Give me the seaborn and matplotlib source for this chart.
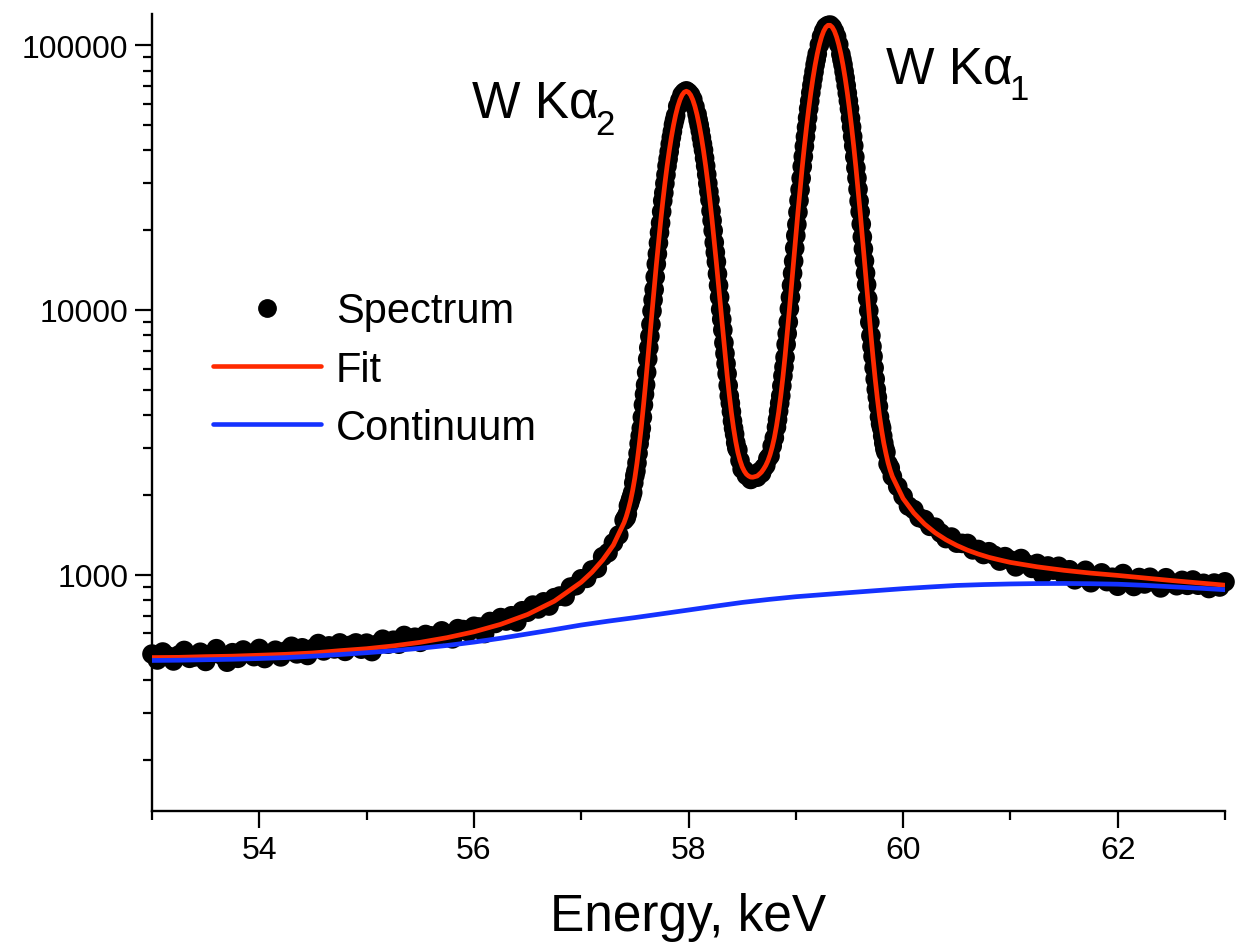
import matplotlib
matplotlib.use("Agg")
import matplotlib.pyplot as plt
import numpy as np
import pandas as pd
import seaborn as sns
from matplotlib.ticker import FixedLocator, FixedFormatter, NullFormatter, LogLocator, MultipleLocator
from matplotlib.lines import Line2D

sns.set_theme(style="ticks")
plt.rcParams["font.family"] = ["Liberation Sans", "DejaVu Sans"]
plt.rcParams["mathtext.fontset"] = "custom"
plt.rcParams["mathtext.rm"] = "Liberation Sans"
plt.rcParams["mathtext.default"] = "regular"
plt.rcParams["text.color"] = "black"
plt.rcParams["axes.labelcolor"] = "black"
plt.rcParams["xtick.color"] = "black"
plt.rcParams["ytick.color"] = "black"

# ---------------- data ----------------
energy_low = [53.00, 53.05, 53.10, 53.15, 53.20, 53.25, 53.30, 53.35, 53.40, 53.45,
              53.50, 53.55, 53.60, 53.65, 53.70, 53.75, 53.80, 53.85, 53.90, 53.95,
              54.00, 54.05, 54.10, 54.15, 54.20, 54.25, 54.30, 54.35, 54.40, 54.45,
              54.50, 54.55, 54.60, 54.65, 54.70, 54.75, 54.80, 54.85, 54.90, 54.95,
              55.00, 55.05, 55.10, 55.15, 55.20, 55.25, 55.30, 55.35, 55.40, 55.45,
              55.50, 55.55, 55.60, 55.65, 55.70, 55.75, 55.80, 55.85, 55.90, 55.95,
              56.00, 56.05, 56.10, 56.15, 56.20, 56.25, 56.30, 56.35, 56.40, 56.45,
              56.50, 56.55, 56.60, 56.65, 56.70, 56.75, 56.80, 56.85, 56.90, 56.95,
              57.00, 57.05, 57.10, 57.15, 57.20, 57.25, 57.30, 57.35]
counts_low = [501, 476, 510, 492, 472, 497, 517, 483, 489, 509,
              470, 500, 525, 496, 467, 507, 483, 519, 504, 490,
              526, 482, 503, 518, 489, 515, 536, 502, 529, 495,
              526, 549, 515, 538, 524, 552, 513, 541, 552, 523,
              551, 512, 546, 570, 546, 565, 546, 589, 564, 580,
              555, 594, 587, 580, 613, 595, 572, 625, 620, 608,
              638, 634, 599, 665, 654, 688, 668, 699, 663, 730,
              721, 767, 742, 789, 761, 818, 830, 825, 897, 908,
              964, 968, 1041, 1056, 1169, 1210, 1319, 1411]

energy_peak = [57.40, 57.42, 57.44, 57.46, 57.48, 57.50, 57.52, 57.54, 57.56, 57.58,
               57.60, 57.62, 57.64, 57.66, 57.68, 57.70, 57.72, 57.74, 57.76, 57.78,
               57.80, 57.82, 57.84, 57.86, 57.88, 57.90, 57.92, 57.94, 57.96, 57.98,
               58.00, 58.02, 58.04, 58.06, 58.08, 58.10, 58.12, 58.14, 58.16, 58.18,
               58.20, 58.22, 58.24, 58.26, 58.28, 58.30, 58.32, 58.34, 58.36, 58.38,
               58.40, 58.42, 58.44, 58.46, 58.48, 58.50, 58.52, 58.54, 58.56, 58.58,
               58.60, 58.62, 58.64, 58.66, 58.68, 58.70, 58.72, 58.74, 58.76, 58.78,
               58.80, 58.82, 58.84, 58.86, 58.88, 58.90, 58.92, 58.94, 58.96, 58.98,
               59.00, 59.02, 59.04, 59.06, 59.08, 59.10, 59.12, 59.14, 59.16, 59.18,
               59.20, 59.22, 59.24, 59.26, 59.28, 59.30, 59.32, 59.34, 59.36, 59.38,
               59.40, 59.42, 59.44, 59.46, 59.48, 59.50, 59.52, 59.54, 59.56, 59.58,
               59.60, 59.62, 59.64, 59.66, 59.68, 59.70, 59.72, 59.74, 59.76, 59.78,
               59.80, 59.82, 59.84, 59.86, 59.88, 59.90]
counts_peak = [1604, 1640, 1819, 1921, 2042, 2365, 2641, 3123, 3571, 4375,
               5208, 6520, 7945, 9896, 11933, 14887, 17887, 21289, 25804, 30003,
               34949, 39553, 44796, 49981, 54115, 58742, 61874, 64903, 66360, 67131,
               66180, 64746, 62303, 58467, 54755, 49848, 44706, 40108, 34952, 30050,
               26026, 21745, 17969, 15177, 12365, 10034, 8390, 6844, 5735, 4730,
               4125, 3570, 3151, 2955, 2698, 2504, 2485, 2370, 2404, 2288,
               2333, 2367, 2333, 2443, 2414, 2529, 2583, 2744, 2808, 3061,
               3286, 3604, 4145, 4735, 5629, 6616, 8135, 10091, 12367, 15267,
               19067, 23368, 28425, 34772, 41450, 48900, 57479, 66042, 74795, 84223,
               92587, 100295, 107606, 112916, 116999, 118507, 118978, 116755, 112680, 107596,
               100487, 92300, 84214, 75015, 65835, 57470, 49036, 41642, 34405, 28548,
               23459, 18843, 15303, 12441, 9932, 7986, 6668, 5480, 4677, 3941,
               3578, 3141, 2898, 2619, 2529, 2348]
fit_peak = [1573, 1657, 1766, 1902, 2084, 2319, 2641, 3062, 3607, 4332,
            5261, 6455, 7945, 9798, 12054, 14740, 17887, 21504, 25549, 30003,
            34775, 39752, 44796, 49732, 54387, 58566, 62060, 64709, 66360, 66930,
            66379, 64746, 62117, 58643, 54483, 49848, 44931, 39908, 34952, 30201,
            25768, 21745, 18150, 15027, 12365, 10135, 8307, 6844, 5678, 4778,
            4084, 3570, 3183, 2897, 2698, 2555, 2460, 2394, 2357, 2335,
            2333, 2344, 2357, 2395, 2438, 2504, 2583, 2690, 2836, 3031,
            3286, 3640, 4104, 4735, 5573, 6683, 8135, 9991, 12367, 15344,
            18972, 23368, 28568, 34599, 41450, 49047, 57307, 66042, 75020, 83971,
            92587, 100496, 107391, 112916, 116765, 118744, 118741, 116755, 112906, 107381,
            100487, 92578, 83962, 75015, 66033, 57298, 49036, 41435, 34578, 28548,
            23342, 18938, 15303, 12318, 9932, 8067, 6602, 5480, 4631, 3981,
            3508, 3141, 2869, 2645, 2479, 2348]

# extra channels read on the steep flanks of both lines
energy_flank = [57.41, 57.43, 57.45, 57.47, 57.49, 57.51, 57.53,
                57.55, 57.57, 57.59, 57.61, 57.63, 57.65, 57.67, 57.69, 57.71, 57.73,
                57.75, 57.77, 57.79, 57.81, 57.83, 57.85, 57.87,
                58.09, 58.11, 58.13, 58.15, 58.17, 58.19, 58.21, 58.23, 58.25,
                58.27, 58.29, 58.31, 58.33, 58.35, 58.37, 58.39, 58.41, 58.43, 58.45,
                58.83, 58.85,
                58.87, 58.89, 58.91, 58.93, 58.95, 58.97, 58.99, 59.01, 59.03,
                59.05, 59.07, 59.09, 59.11, 59.13, 59.15, 59.17, 59.19,
                59.43, 59.45, 59.47, 59.49, 59.51, 59.53, 59.55, 59.57, 59.59,
                59.61, 59.63, 59.65, 59.67, 59.69, 59.71, 59.73, 59.75,
                59.77, 59.79, 59.81, 59.83]
counts_flank = [1631, 1694, 1858, 1975, 2221, 2460, 2870,
                3340, 3931, 4798, 5810, 7190, 8801, 10900, 13310, 16270, 19580,
                23480, 27650, 32360, 37140, 42250, 47150, 52060,
                52060, 47380, 42300, 37400, 32450, 27950, 23630, 19910, 16480,
                13670, 11160, 9210, 7510, 6260, 5180, 4440, 3800, 3390, 3010,
                3850, 4440,
                5160, 6080, 7400, 8990, 11150, 13740, 17100, 21010, 25880,
                31400, 37920, 45050, 53080, 61460, 70450, 79310, 88240,
                88100, 79430, 70320, 61580, 52950, 45140, 37800, 31470, 25770,
                21080, 16990, 13770, 11030, 8980, 7270, 6040, 5010,
                4320, 3710, 3340, 2985]

energy_high = [59.95, 60.00, 60.05, 60.10, 60.15, 60.20, 60.25, 60.30, 60.35, 60.40,
               60.45, 60.50, 60.55, 60.60, 60.65, 60.70, 60.75, 60.80, 60.85, 60.90,
               60.95, 61.00, 61.05, 61.10, 61.15, 61.20, 61.25, 61.30, 61.35, 61.40,
               61.45, 61.50, 61.55, 61.60, 61.65, 61.70, 61.75, 61.80, 61.85, 61.90,
               61.95, 62.00, 62.05, 62.10, 62.15, 62.20, 62.25, 62.30, 62.35, 62.40,
               62.45, 62.50, 62.55, 62.60, 62.65, 62.70, 62.75, 62.80, 62.85, 62.90,
               62.95, 63.00]
counts_high = [2151, 1977, 1815, 1760, 1641, 1614, 1522, 1510, 1436, 1368,
               1386, 1315, 1312, 1311, 1240, 1244, 1191, 1220, 1183, 1125,
               1169, 1134, 1070, 1150, 1097, 1056, 1102, 1000, 1078, 1040,
               1075, 996, 1043, 956, 1003, 1038, 932, 979, 1015, 941,
               977, 904, 1009, 945, 902, 975, 922, 977, 934, 891,
               973, 931, 908, 951, 911, 954, 912, 927, 886, 929,
               898, 939]

fit_energy_low = [53.00, 53.25, 53.50, 53.75, 54.00, 54.25, 54.50, 54.75, 55.00, 55.25,
                  55.50, 55.75, 56.00, 56.25, 56.50, 56.75, 57.00, 57.10, 57.20, 57.30]
fit_low = [486, 487, 490, 492, 496, 500, 506, 516, 525, 538,
           555, 578, 608, 649, 707, 794, 936, 1021, 1135, 1293]
fit_energy_high = [60.00, 60.10, 60.20, 60.30, 60.40, 60.50, 60.60, 60.70, 60.80, 60.90,
                   61.00, 61.25, 61.50, 61.75, 62.00, 62.25, 62.50, 62.75, 63.00]
fit_high = [1938, 1709, 1552, 1438, 1354, 1289, 1237, 1196, 1162, 1136,
            1112, 1070, 1038, 1013, 993, 971, 950, 931, 912]

cont_energy = [53.00, 53.25, 53.50, 53.75, 54.00, 54.25, 54.50, 54.75, 55.00, 55.25,
               55.50, 55.75, 56.00, 56.25, 56.50, 56.75, 57.00, 57.25, 57.50, 57.75,
               58.00, 58.25, 58.50, 58.75, 59.00, 59.25, 59.50, 59.75, 60.00, 60.25,
               60.50, 60.75, 61.00, 61.25, 61.50, 61.75, 62.00, 62.25, 62.50, 62.75,
               63.00]
cont_counts = [474, 475, 477, 479, 482, 486, 492, 499, 507, 516,
               527, 540, 556, 575, 597, 620, 645, 667, 688, 711,
               735, 760, 785, 806, 825, 840, 855, 870, 885, 898,
               910, 917, 922, 925, 926, 924, 920, 911, 900, 889,
               877]

legend_labels = ["Spectrum", "Fit", "Continuum"]
major_y = [1000, 10000, 100000]
major_y_labels = ["1000", "10000", "100000"]
major_x = [54, 56, 58, 60, 62]

RED = "#FF2A00"
BLUE = "#1432FF"

spec = pd.DataFrame({"energy": energy_low + energy_peak + energy_flank + energy_high,
                     "counts": counts_low + counts_peak + counts_flank + counts_high})
fit = pd.DataFrame({"energy": fit_energy_low + energy_peak + fit_energy_high,
                    "counts": fit_low + fit_peak + fit_high})
cont = pd.DataFrame({"energy": cont_energy, "counts": cont_counts})

# ---------------- figure ----------------
W, H = 1241, 945
fig = plt.figure(figsize=(W / 100, H / 100), dpi=100)
ax = fig.add_axes([152 / W, 1 - 812 / H, (1225 - 152) / W, (812 - 15) / H])
ax.set_yscale("log")

sns.scatterplot(data=spec, x="energy", y="counts", ax=ax, color="black", s=200,
                linewidth=0, edgecolor="none", clip_on=False, zorder=2, legend=False)
sns.lineplot(data=fit, x="energy", y="counts", ax=ax, color=RED, lw=3.4,
             estimator=None, sort=False, zorder=3, solid_joinstyle="round")
sns.lineplot(data=cont, x="energy", y="counts", ax=ax, color=BLUE, lw=3.4,
             estimator=None, sort=False, zorder=3, solid_joinstyle="round")

ax.set_xlim(53, 63)
ax.set_ylim(128, 131000)
ax.grid(False)

for side in ["top", "right"]:
    ax.spines[side].set_visible(False)
for side in ["left", "bottom"]:
    ax.spines[side].set_linewidth(1.7)
    ax.spines[side].set_color("black")

ax.yaxis.set_major_locator(FixedLocator(major_y))
ax.yaxis.set_major_formatter(FixedFormatter(major_y_labels))
ax.yaxis.set_minor_locator(LogLocator(base=10, subs=[2, 3, 4, 5, 6, 7, 8, 9]))
ax.yaxis.set_minor_formatter(NullFormatter())
ax.set_xticks(major_x)
ax.xaxis.set_minor_locator(MultipleLocator(1))

ax.tick_params(axis="both", which="major", direction="out", length=12, width=1.6,
               labelsize=23, colors="black")
ax.tick_params(axis="both", which="minor", direction="out", length=6.5, width=1.6,
               colors="black")
ax.tick_params(axis="y", which="major", pad=5)
ax.tick_params(axis="x", which="major", pad=5)

ax.set_xlabel("Energy, keV", fontsize=37, labelpad=20, color="black")
ax.set_ylabel("")

# peak labels: "W Kα" with a large, low subscript
t2 = ax.text(55.98, 53950, "W Kα", fontsize=37, ha="left", va="baseline", color="black")
ax.annotate("2", xy=(1, 0), xycoords=t2, xytext=(-2, -5), textcoords="offset points",
            fontsize=25, ha="left", va="baseline", color="black")
t1 = ax.text(59.84, 72450, "W Kα", fontsize=37, ha="left", va="baseline", color="black")
ax.annotate("1", xy=(1, 0), xycoords=t1, xytext=(-2, -4.5), textcoords="offset points",
            fontsize=25, ha="left", va="baseline", color="black")

handles = [Line2D([], [], marker="o", ls="none", color="black", markersize=12.5),
           Line2D([], [], color=RED, lw=3.3, solid_capstyle="round"),
           Line2D([], [], color=BLUE, lw=3.3, solid_capstyle="round")]
ax.legend(handles, legend_labels, loc="upper left", bbox_to_anchor=(0.0568, 0.652),
          frameon=False, fontsize=30, handlelength=2.6, handletextpad=0.35,
          labelspacing=0.44, borderpad=0, borderaxespad=0, numpoints=1,
          labelcolor="black")

fig.savefig("out.png", dpi=100)
